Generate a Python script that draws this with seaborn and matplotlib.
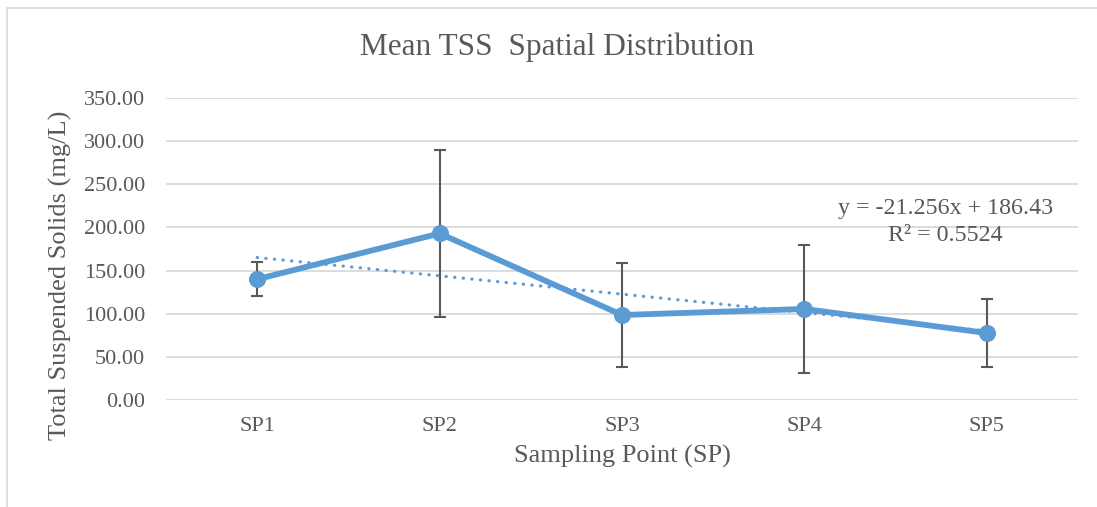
import numpy as np
import pandas as pd
import matplotlib
matplotlib.use("Agg")
import matplotlib.pyplot as plt
import seaborn as sns

points = ["SP1", "SP2", "SP3", "SP4", "SP5"]
mean_tss = [140.0, 193.0, 98.5, 105.5, 77.6]
sd_tss = [20.0, 97.0, 60.5, 74.5, 39.3]
slope, intercept = -21.256, 186.43
r2 = 0.5524

sns.set_style("white")
plt.rcParams['font.family'] = ['Liberation Serif', 'DejaVu Serif']
grey = "#595959"
blue = "#5B9BD5"

df = pd.DataFrame({"point": points, "tss": mean_tss, "sd": sd_tss})
df["pos"] = np.arange(len(points))
df["trend"] = slope * (df["pos"] + 1) + intercept

W, H = 1097, 507
fig = plt.figure(figsize=(W / 100, H / 100), dpi=100)
ax = fig.add_axes([166 / W, 1 - 400 / H, 912 / W, 302 / H])

# chart area border (only left and top are inside the picture)
fig.add_artist(plt.Line2D([7 / W, 7 / W], [0, 1 - 8 / H], transform=fig.transFigure,
                          color="#D9D9D9", linewidth=1.2))
fig.add_artist(plt.Line2D([7 / W, 1], [1 - 8 / H, 1 - 8 / H], transform=fig.transFigure,
                          color="#D9D9D9", linewidth=1.2))

ax.errorbar(df["pos"], df["tss"], yerr=df["sd"], fmt="none", ecolor=grey,
            elinewidth=1.5, capsize=4.5, capthick=1.5, zorder=2)
sns.lineplot(data=df, x="pos", y="tss", ax=ax, color=blue, linewidth=4.2,
             marker="o", markersize=11.5, markeredgecolor=blue, zorder=3)
sns.lineplot(data=df, x="pos", y="trend", ax=ax, color=blue, linewidth=2.3,
             linestyle=(0, (0.1, 2.6)), dash_capstyle="round", zorder=4)

ax.set_xlim(-0.5, 4.5)
ax.set_ylim(0, 350)
ax.set_xticks(df["pos"])
ax.set_xticklabels(points)
ax.set_yticks(np.arange(0, 351, 50))
ax.set_yticklabels([f"{v:.2f}" for v in np.arange(0, 351, 50)])
ax.yaxis.grid(True, color="#D9D9D9", linewidth=1.3)
ax.xaxis.grid(False)
for s in ax.spines.values():
    s.set_visible(False)
ax.tick_params(axis="both", length=0, labelsize=16, colors=grey)
ax.tick_params(axis="y", pad=15)
ax.tick_params(axis="x", pad=12)

ax.set_xlabel("Sampling Point (SP)", fontsize=19, color=grey)
ax.xaxis.set_label_coords(0.5, -0.148)
ax.set_ylabel("Total Suspended Solids (mg/L)", fontsize=19, color=grey)
ax.yaxis.set_label_coords(-0.103, 0.414)
fig.text(557 / W, 1 - 47 / H, "Mean TSS  Spatial Distribution", ha="center", va="center",
         fontsize=22.5, color=grey)

# trendline label
ax.text(3.775, 222, f"y = {slope}x + {intercept}", ha="center", va="center",
        fontsize=17.3, color=grey)
ax.text(3.775, 191, f"R² = {r2}", ha="center", va="center",
        fontsize=17.3, color=grey)

fig.savefig("out.png", dpi=100)
